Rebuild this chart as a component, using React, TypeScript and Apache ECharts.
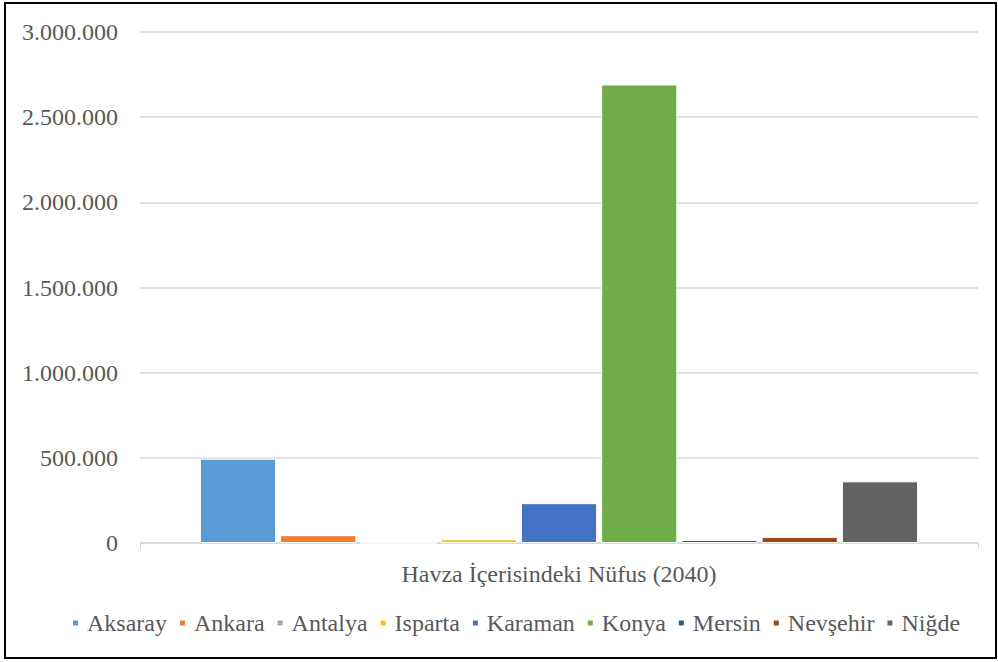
import React, { useEffect, useRef } from "react";
import * as echarts from "echarts";

const category = ["Havza İçerisindeki Nüfus (2040)"];
const seriesNames = ["Aksaray", "Ankara", "Antalya", "Isparta", "Karaman", "Konya", "Mersin", "Nevşehir", "Niğde"];
const seriesValues = [495000, 46000, 0, 22000, 234000, 2692000, 18000, 35000, 362000];
const seriesColors = ["#5b9bd5", "#ed7d31", "#a5a5a5", "#ffc000", "#4472c4", "#70ad47", "#255e91", "#9e480e", "#636363"];

const fmt = (v: number) => String(Math.round(v)).replace(/\B(?=(\d{3})+(?!\d))/g, ".");

export default function App() {
  const ref = useRef<HTMLDivElement>(null);
  useEffect(() => {
    if (!ref.current) return;
    const chart = echarts.init(ref.current, null, { renderer: "svg" });
    const font = "Liberation Serif";
    chart.setOption({
      animation: false,
      textStyle: { fontFamily: font },
      graphic: [
        {
          type: "rect",
          shape: { x: 5, y: 3, width: 991, height: 655 },
          style: { fill: "none", stroke: "#000", lineWidth: 2 },
          silent: true,
        },
      ],
      grid: { left: 140, right: 20, top: 32, bottom: 119, containLabel: false },
      legend: {
        bottom: 22,
        left: 66,
        itemWidth: 7,
        itemHeight: 7,
        itemGap: 11,
        icon: "rect",
        textStyle: { fontFamily: font, fontSize: 24, color: "#595959", padding: [0, 0, 0, 3] },
        data: seriesNames,
      },
      xAxis: {
        type: "category",
        data: category,
        axisLine: { lineStyle: { color: "#d9d9d9", width: 1.5 } },
        axisTick: { show: true, length: 6, lineStyle: { color: "#d9d9d9" } },
        axisLabel: { fontFamily: font, fontSize: 24, color: "#595959", margin: 19 },
      },
      yAxis: {
        type: "value",
        min: 0,
        max: 3000000,
        interval: 500000,
        axisLine: { show: false },
        axisTick: { show: false },
        splitLine: { lineStyle: { color: "#d9d9d9", width: 1.5 } },
        axisLabel: { fontFamily: font, fontSize: 24, color: "#595959", margin: 22, formatter: (v: number) => fmt(v) },
      },
      series: seriesNames.map((name, i) => ({
        name,
        type: "bar",
        data: [seriesValues[i]],
        barGap: "5.3%",
        barCategoryGap: "14.3%",
        itemStyle: { color: seriesColors[i], borderColor: "#fff", borderWidth: 1 },
      })),
    });
    return () => chart.dispose();
  }, []);
  return (
    <div
      ref={ref}
      style={{ position: "absolute", left: 0, top: 0, width: 998, height: 662, background: "#fff" }}
    />
  );
}
